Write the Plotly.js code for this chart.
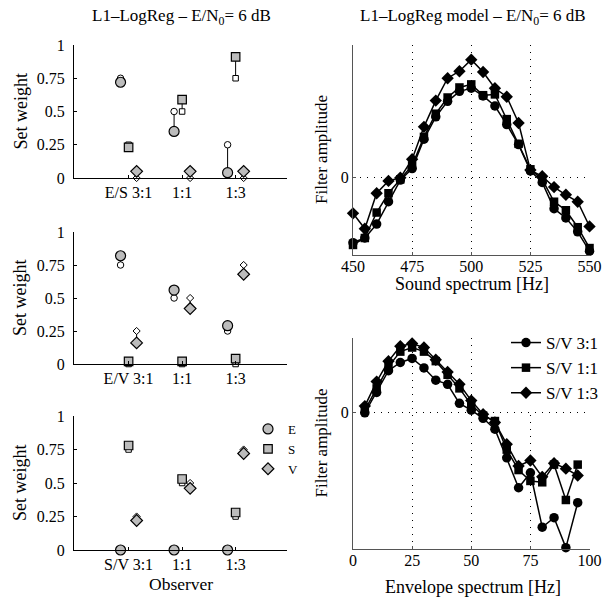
<!DOCTYPE html>
<html><head><meta charset="utf-8">
<script src="https://cdn.plot.ly/plotly-3.0.1.min.js"></script>
<style>html,body{margin:0;padding:0;background:#fff;}#chart{width:605px;height:598px;}</style>
</head><body><div id="chart"></div>
<script>
// ---------------- DATA ----------------
const groupPos = [1, 2, 3];
const esTicks = ['E/S 3:1', '1:1', '1:3'];
const evTicks = ['E/V 3:1', '1:1', '1:3'];
const svTicks = ['S/V 3:1', '1:1', '1:3'];
const setNames = ['E', 'S', 'V'];

// E/S condition: observer (filled) and ideal (open)
const esE_obs = [0.72, 0.35, 0.04], esE_ideal = [0.75, 0.50, 0.25];
const esS_obs = [0.23, 0.59, 0.91], esS_ideal = [0.25, 0.50, 0.75];
const esV_obs = [0.05, 0.05, 0.05], esV_ideal = [0.00, 0.00, 0.00];
// E/V condition
const evE_obs = [0.82, 0.56, 0.29], evE_ideal = [0.75, 0.50, 0.25];
const evS_obs = [0.02, 0.02, 0.04], evS_ideal = [0.00, 0.00, 0.00];
const evV_obs = [0.16, 0.42, 0.68], evV_ideal = [0.25, 0.50, 0.75];
// S/V condition
const svE_obs = [0.00, 0.00, 0.00], svE_ideal = [0.00, 0.00, 0.00];
const svS_obs = [0.78, 0.53, 0.28], svS_ideal = [0.75, 0.50, 0.25];
const svV_obs = [0.22, 0.46, 0.72], svV_ideal = [0.25, 0.50, 0.75];

// Sound spectrum filters
const freqSound = [450,455,460,465,470,475,480,485,490,495,500,505,510,515,520,525,530,535,540,545,550];
const soundSV31 = [-0.84,-0.78,-0.60,-0.31,-0.03,0.12,0.50,0.79,0.99,1.12,1.16,1.06,0.93,0.69,0.43,0.09,-0.06,-0.40,-0.52,-0.70,-0.95];
const soundSV11 = [-0.87,-0.78,-0.45,-0.20,-0.02,0.16,0.53,0.83,1.04,1.17,1.21,1.07,1.08,0.76,0.44,0.11,-0.02,-0.31,-0.42,-0.64,-0.91];
const soundSV13 = [-0.46,-0.66,-0.20,-0.04,0.00,0.24,0.66,1.00,1.29,1.38,1.53,1.37,1.16,1.05,0.71,0.10,0.02,-0.12,-0.22,-0.31,-0.63];

// Envelope spectrum filters
const freqEnv = [5,10,15,20,25,30,35,40,45,50,55,60,65,70,75,80,85,90,95];
const envSV31 = [0.00,0.15,0.31,0.37,0.40,0.33,0.24,0.21,0.07,0.02,-0.04,-0.12,-0.33,-0.55,-0.44,-0.84,-0.77,-0.99,-0.66];
const envSV11 = [0.02,0.18,0.34,0.45,0.48,0.45,0.38,0.28,0.18,0.06,-0.02,-0.06,-0.27,-0.42,-0.50,-0.51,-0.38,-0.64,-0.38];
const envSV13 = [0.05,0.23,0.38,0.49,0.51,0.48,0.39,0.30,0.21,0.09,-0.01,-0.07,-0.23,-0.39,-0.35,-0.47,-0.37,-0.41,-0.46];

const seriesNames = ['S/V 3:1', 'S/V 1:1', 'S/V 1:3'];

// ---------------- STYLE / LAYOUT ----------------
const FONT = 'Liberation Serif, Times New Roman, serif';
const W = 605, H = 598;
const px = a => a / W, py = b => 1 - b / H;
const off = {E: -0.15, S: 0, V: 0.15};
const sym = {E: 'circle', S: 'square', V: 'diamond'};
const fSize = {E: 10, S: 8.5, V: 9};
const oSize = {E: 6.5, S: 5.5, V: 5.5};
const GRAY = '#bcbcbc';

const traces = [];
function addPanel(xa, ya, obsList, idealList, legendName) {
  const cx = [], cy = [];
  setNames.forEach((s, k) => {
    groupPos.forEach((g, i) => {
      cx.push(g + off[s], g + off[s], null);
      cy.push(idealList[k][i], obsList[k][i], null);
    });
  });
  traces.push({x: cx, y: cy, xaxis: xa, yaxis: ya, mode: 'lines', line: {color: '#000', width: 1},
    showlegend: false, hoverinfo: 'skip', cliponaxis: false});
  setNames.forEach((s, k) => {
    traces.push({x: groupPos.map(g => g + off[s]), y: idealList[k], xaxis: xa, yaxis: ya, mode: 'markers',
      marker: {symbol: sym[s], size: oSize[s], color: '#fff', line: {color: '#000', width: 1}},
      showlegend: false, cliponaxis: false});
  });
  setNames.forEach((s, k) => {
    const t = {x: groupPos.map(g => g + off[s]), y: obsList[k], xaxis: xa, yaxis: ya, mode: 'markers', name: s,
      marker: {symbol: sym[s], size: fSize[s], color: GRAY, line: {color: '#000', width: 1.2}},
      showlegend: !!legendName, cliponaxis: false};
    if (legendName) t.legend = legendName;
    traces.push(t);
  });
}
addPanel('x', 'y', [esE_obs, esS_obs, esV_obs], [esE_ideal, esS_ideal, esV_ideal], null);
addPanel('x2', 'y2', [evE_obs, evS_obs, evV_obs], [evE_ideal, evS_ideal, evV_ideal], null);
addPanel('x3', 'y3', [svE_obs, svS_obs, svV_obs], [svE_ideal, svS_ideal, svV_ideal], 'legend2');

const rSym = ['circle', 'square', 'diamond'];
const rSize = [9.5, 8.5, 9.5];
[soundSV31, soundSV11, soundSV13].forEach((ys, k) => {
  traces.push({x: freqSound, y: ys, xaxis: 'x4', yaxis: 'y4', mode: 'lines+markers', name: seriesNames[k],
    line: {color: '#000', width: 1.5}, marker: {symbol: rSym[k], size: rSize[k], color: '#000'},
    showlegend: false, cliponaxis: false});
});
[envSV31, envSV11, envSV13].forEach((ys, k) => {
  traces.push({x: freqEnv, y: ys, xaxis: 'x5', yaxis: 'y5', mode: 'lines+markers', name: seriesNames[k],
    line: {color: '#000', width: 1.5}, marker: {symbol: rSym[k], size: rSize[k], color: '#000'},
    showlegend: true, cliponaxis: false});
});

const tickFont = {family: FONT, size: 16, color: '#000'};
function leftX(ticks) {
  return {domain: [px(74), px(287)], range: [-0.02, 3.96], tickvals: groupPos, ticktext: ticks,
    showline: true, linecolor: '#000', linewidth: 1, ticks: 'inside', ticklen: 3, tickcolor: '#000',
    showgrid: false, zeroline: false, tickfont: tickFont};
}
function leftY(top, bot) {
  return {domain: [py(bot), py(top)], range: [0, 1], tickvals: [0, 0.25, 0.5, 0.75, 1],
    ticktext: ['0', '0.25', '0.5', '0.75', '1'], showline: true, linecolor: '#000', linewidth: 1,
    ticks: 'inside', ticklen: 3, tickcolor: '#000', showgrid: false, zeroline: false, tickfont: tickFont,
    ticklabelstandoff: 5};
}
const gridDash = '1px,6px';
function rightX(range, tv) {
  return {domain: [px(353), px(590)], range: range, tickvals: tv, ticktext: tv.map(String),
    showline: true, linecolor: '#555', linewidth: 1, ticks: 'inside', ticklen: 3, tickcolor: '#555',
    showgrid: true, gridcolor: '#000', gridwidth: 1, griddash: gridDash, zeroline: false, tickfont: tickFont,
    ticklabelstandoff: -3};
}
function rightY(range, top, bot) {
  return {domain: [py(bot), py(top)], range: range, tickvals: [0], ticktext: ['0'],
    showline: true, linecolor: '#555', linewidth: 1, ticks: 'inside', ticklen: 3, tickcolor: '#555',
    showgrid: true, gridcolor: '#000', gridwidth: 1, griddash: gridDash, zeroline: false, tickfont: tickFont};
}

const layout = {
  width: W, height: H, margin: {l: 0, r: 0, t: 0, b: 0},
  paper_bgcolor: '#fff', plot_bgcolor: 'rgba(0,0,0,0)',
  font: {family: FONT, color: '#000'},
  showlegend: true,
  xaxis: Object.assign(leftX(esTicks), {anchor: 'y'}),
  yaxis: Object.assign(leftY(45, 178), {anchor: 'x'}),
  xaxis2: Object.assign(leftX(evTicks), {anchor: 'y2'}),
  yaxis2: Object.assign(leftY(232, 364), {anchor: 'x2'}),
  xaxis3: Object.assign(leftX(svTicks), {anchor: 'y3'}),
  yaxis3: Object.assign(leftY(416, 550), {anchor: 'x3'}),
  xaxis4: Object.assign(rightX([450, 550.2], [450, 475, 500, 525, 550]), {anchor: 'y4'}),
  yaxis4: Object.assign(rightY([-1, 1.72], 45, 255), {anchor: 'x4'}),
  xaxis5: Object.assign(rightX([0, 100.2], [0, 25, 50, 75, 100]), {anchor: 'y5'}),
  yaxis5: Object.assign(rightY([-1, 0.55], 338, 549), {anchor: 'x5'}),
  legend: {x: px(506), y: py(325), xanchor: 'left', yanchor: 'top', bgcolor: '#fff', borderwidth: 0,
    font: {family: FONT, size: 17, color: '#000'}, tracegroupgap: 0},
  legend2: {x: px(248), y: py(414), xanchor: 'left', yanchor: 'top', bgcolor: 'rgba(0,0,0,0)', borderwidth: 0,
    font: {family: FONT, size: 13, color: '#000'}, tracegroupgap: 0},
  annotations: []
};
function ann(text, x, y, size, angle) {
  layout.annotations.push({text: text, x: px(x), y: py(y), xref: 'paper', yref: 'paper', showarrow: false,
    xanchor: 'center', yanchor: 'middle', textangle: angle || 0, font: {family: FONT, size: size, color: '#000'}});
}
ann('L1\u2013LogReg \u2013 E/N<sub>0</sub>= 6 dB', 181, 17, 17);
ann('L1\u2013LogReg model \u2013 E/N<sub>0</sub>= 6 dB', 473, 17, 17);
ann('Set weight', 20, 111.5, 18, -90);
ann('Set weight', 20, 298, 18, -90);
ann('Set weight', 20, 483, 18, -90);
ann('Filter amplitude', 321, 150, 17, -90);
ann('Filter amplitude', 321, 443.5, 17, -90);
ann('Sound spectrum [Hz]', 472, 284, 18);
ann('Envelope spectrum [Hz]', 473, 587, 18);
ann('Observer', 181, 584, 17.5);

Plotly.newPlot('chart', traces, layout, {displayModeBar: false, staticPlot: true});
</script></body></html>
